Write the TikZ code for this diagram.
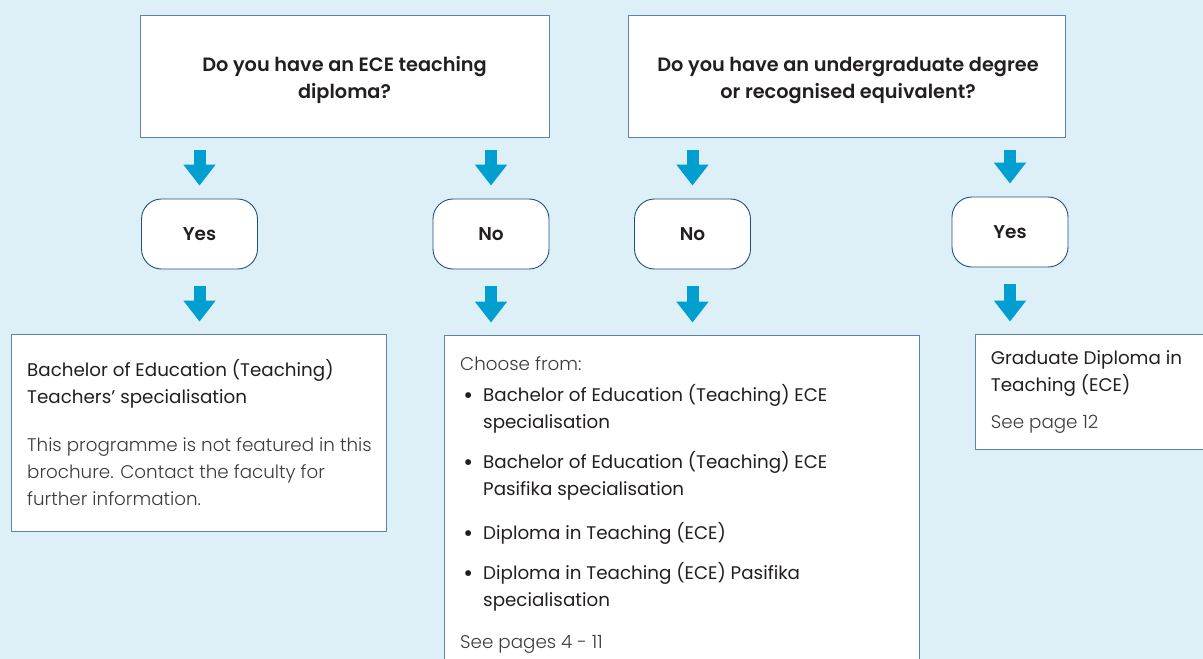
\documentclass[tikz,border=0pt]{standalone}
\usepackage{fontspec}
\setmainfont{Poppins}[BoldFont={* SemiBold}]
\newfontfamily\lightfont{Poppins}[UprightFont={* Light}]
\usetikzlibrary{arrows.meta}
\definecolor{bgblue}{HTML}{DDEFF7}
\definecolor{arrowblue}{HTML}{009FCF}
\definecolor{boxline}{HTML}{5E82A8}
\definecolor{navy}{HTML}{24507D}
\definecolor{inktext}{HTML}{231F20}
\definecolor{softtext}{HTML}{3C3C3C}
\newcommand{\listdot}{\llap{\raisebox{-2pt}{\scalebox{1.3}{\textbullet}}\hspace{10pt}}}
\begin{document}
\begin{tikzpicture}[x=1pt,y=-1pt]
	\tikzstyle{Question} = [rectangle, draw=boxline, fill=white, line width=0.9pt]
	\tikzstyle{QText} = [anchor=base, align=center, inner sep=0pt, text=inktext, font=\bfseries\fontsize{19.3}{27}\selectfont]
	\tikzstyle{Answer} = [rectangle, rounded corners=20pt, draw=navy, fill=white, line width=0.9pt, minimum width=116pt, minimum height=70pt, text=inktext, font=\bfseries\fontsize{18.5}{20}\selectfont]
	\tikzstyle{Result} = [rectangle, draw=boxline, fill=white, line width=0.9pt]
	\tikzstyle{Body} = [anchor=base west, align=left, inner sep=0pt, text=inktext, font=\fontsize{18.3}{27}\selectfont]
	\tikzstyle{Soft} = [text=softtext, font=\lightfont\fontsize{18.3}{27}\selectfont]
	\tikzstyle{arrow} = [arrowblue, line width=12pt, -{Triangle[width=31pt,length=21pt]}, shorten <=13pt, shorten >=13pt]
	
	\fill [bgblue] (0,0) rectangle (1203,659);
	\useasboundingbox (0,0) rectangle (1203,659);
	
	% questions
	\node (qdip) [Question, minimum width=409pt, minimum height=122pt] at (344.5,76) {};
	\node (qdeg) [Question, minimum width=437pt, minimum height=122pt] at (846.5,76) {};
	\node (qdiptext) [QText] at (344.5,98.5) {Do you have an ECE teaching\\diploma?};
	\node (qdegtext) [QText] at (848,98.5) {Do you have an undergraduate degree\\or recognised equivalent?};
	
	% answers
	\node (yesdip) [Answer] at (199.5,234) {Yes};
	\node (nodip) [Answer] at (491,234) {No};
	\node (nodeg) [Answer] at (692.5,234) {No};
	\node (yesdeg) [Answer] at (1010,232) {Yes};
	
	% results
	\node (bedt) [Result, minimum width=375pt, minimum height=197pt] at (198.5,432.5) {};
	\node (choose) [Result, minimum width=475pt, minimum height=334pt] at (681.5,502) {};
	\node (graddip) [Result, minimum width=240pt, minimum height=115pt] at (1095,391.5) {};
	
	\draw [arrow] (yesdip.north |- qdip.south) -- (yesdip.north);
	\draw [arrow] (nodip.north |- qdip.south) -- (nodip.north);
	\draw [arrow] (nodeg.north |- qdeg.south) -- (nodeg.north);
	\draw [arrow] (yesdeg.north |- qdeg.south) -- (yesdeg.north);
	\draw [arrow, shorten <=17pt, shorten >=12pt] (yesdip.south) -- (yesdip.south |- bedt.north);
	\draw [arrow, shorten <=17pt, shorten >=12pt] (nodip.south) -- (nodip.south |- choose.north);
	\draw [arrow, shorten <=17pt, shorten >=12pt] (nodeg.south) -- (nodeg.south |- choose.north);
	\draw [arrow, shorten <=17pt, shorten >=12pt] (yesdeg.south) -- (yesdeg.south |- graddip.north);
	
	% texts (base = last line)
	\node (bedttitle) [Body] at (27,403) {Bachelor of Education (Teaching)\\Teachers' specialisation};
	\node (bedtnote) [Body, Soft] at (27,505) {This programme is not featured in this\\brochure. Contact the faculty for\\further information.};
	\node (choosehead) [Body, Soft] at (460,370) {Choose from:};
	\node (itema) [Body] at (483,428) {\listdot Bachelor of Education (Teaching) ECE\\specialisation};
	\node (itemb) [Body] at (483,495.7) {\listdot Bachelor of Education (Teaching) ECE\\Pasifika specialisation};
	\node (itemc) [Body] at (483,539) {\listdot Diploma in Teaching (ECE)};
	\node (itemd) [Body] at (483,606.7) {\listdot Diploma in Teaching (ECE) Pasifika\\specialisation};
	\node (seepages) [Body, Soft] at (460,648) {See pages 4 - 11};
	\node (gradtitle) [Body] at (990.7,391.7) {Graduate Diploma in\\Teaching (ECE)};
	\node (seepage) [Body, Soft] at (990.7,428) {See page 12};
\end{tikzpicture}
\end{document}
